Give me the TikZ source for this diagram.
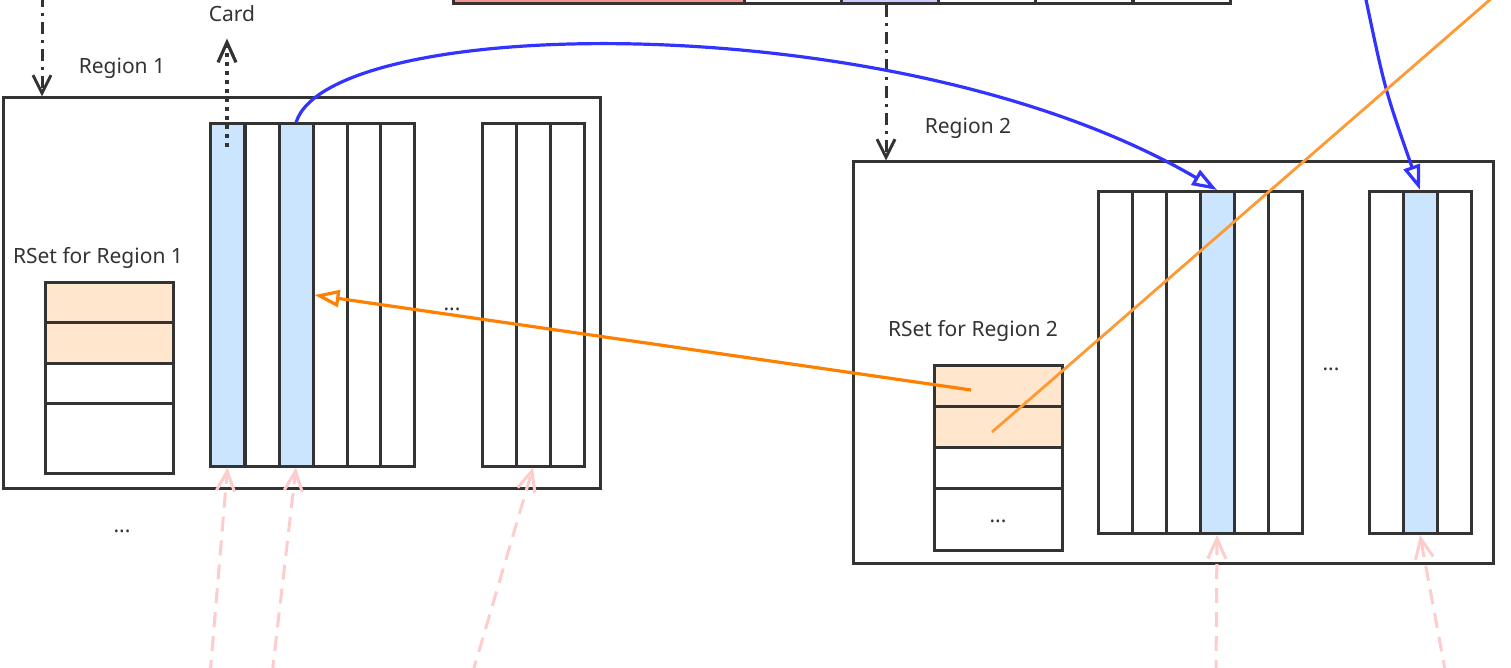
\documentclass[tikz,border=0pt]{standalone}
\usepackage{fontspec}
\setmainfont{Noto Sans}
\usepackage{xcolor}
\usetikzlibrary{arrows.meta,calc}
\definecolor{linegray}{HTML}{333333}
\definecolor{cardblue}{HTML}{CCE5FF}
\definecolor{rsorange}{HTML}{FFE6CC}
\definecolor{heapred}{HTML}{F59393}
\definecolor{heapblue}{HTML}{CCCCFF}
\definecolor{refblue}{HTML}{3333FF}
\definecolor{reforange}{HTML}{FF8000}
\definecolor{refamber}{HTML}{FF9933}
\definecolor{scanpink}{HTML}{FFCCCC}
\tikzset{
  region/.style={
    draw=linegray,
    line width=1.5pt,
    inner sep=0,
    fill=white
  },
  cardcol/.style={
    draw=linegray,
    line width=1.5pt,
    inner sep=0,
    minimum width=17pt,
    minimum height=171pt,
    fill=white
  },
  rsrow/.style={
    draw=linegray,
    line width=1.5pt,
    inner sep=0,
    minimum width=64pt,
    fill=white
  },
  heapcell/.style={
    draw=linegray,
    line width=1.5pt,
    inner sep=0,
    minimum height=20pt,
    minimum width=48.5pt,
    fill=white
  },
  lbl/.style={
    text=linegray,
    inner sep=0,
    font=\fontsize{10.5}{12}\selectfont
  },
  bluearrow/.style={
    draw=refblue,
    line width=1.6pt,
    -{Triangle[open,length=12.5pt,width=8.5pt]}
  },
  orangearrow/.style={
    draw=reforange,
    line width=1.6pt,
    -{Triangle[open,length=12.5pt,width=8.5pt]}
  },
  scanarrow/.style={
    draw=scanpink,
    line width=1.5pt,
    dash pattern=on 7.5pt off 4.5pt,
    -{Straight Barb[length=10pt,width=9pt]}
  },
  ptrarrow/.style={
    draw=linegray,
    line width=1.5pt,
    dash pattern=on 6pt off 3pt on 1.5pt off 3pt,
    -{Straight Barb[length=9pt,width=9pt]}
  },
  cardarrow/.style={
    draw=linegray,
    line width=1.6pt,
    dash pattern=on 2pt off 2.5pt,
    -{Straight Barb[length=10pt,width=9pt]}
  }
}

\begin{document}
\begin{tikzpicture}[x=0.5pt,y=-0.5pt]
    \useasboundingbox (0,0) rectangle (1511,668);
    \clip (0,0) rectangle (1511,668);

    % heap
    \node[heapcell, fill=heapred, minimum width=146pt] (heap0) at (599,-16) {};
    \node[heapcell] (heap1) at (793,-16) {};
    \node[heapcell, fill=heapblue] (heap2) at (889.5,-16) {};
    \node[heapcell] (heap3) at (986.5,-16) {};
    \node[heapcell] (heap4) at (1084,-16) {};
    \node[heapcell] (heap5) at (1181.5,-16) {};

    % region 1
    \node[region, minimum width=298.5pt, minimum height=195pt] (reg1) at (301.5,293) {};
    \node[lbl] (reg1lbl) at (122,68) {Region 1};
    \node[lbl] (cardlbl) at (232,14) {Card};
    \node[cardcol, fill=cardblue] (r1c0) at (227.5,295) {};
    \node[cardcol] (r1c1) at (262,295) {};
    \node[cardcol, fill=cardblue] (r1c2) at (296,295) {};
    \node[cardcol] (r1c3) at (330,295) {};
    \node[cardcol] (r1c4) at (364,295) {};
    \node[cardcol] (r1c5) at (397.5,295) {};
    \node[cardcol] (r1d0) at (499,295) {};
    \node[cardcol] (r1d1) at (533,295) {};
    \node[cardcol] (r1d2) at (567,295) {};
    \node[lbl] (r1dots) at (452,309) {...};
    \node[lbl] (rs1lbl) at (98,258) {RSet for Region 1};
    \node[rsrow, fill=rsorange, minimum height=20pt] (rs1a) at (109,303) {};
    \node[rsrow, fill=rsorange, minimum height=20.5pt] (rs1b) at (109,343.5) {};
    \node[rsrow, minimum height=20pt] (rs1c) at (109,384) {};
    \node[rsrow, minimum height=34.5pt] (rs1d) at (109,438.5) {};
    \node[lbl] (moredots) at (122,531) {...};

    % region 2
    \node[region, minimum width=320pt, minimum height=200.5pt] (reg2) at (1173,362.5) {};
    \node[lbl] (reg2lbl) at (968,128) {Region 2};
    \node[cardcol] (r2c0) at (1115,362.5) {};
    \node[cardcol] (r2c1) at (1149,362.5) {};
    \node[cardcol] (r2c2) at (1183,362.5) {};
    \node[cardcol, fill=cardblue] (r2c3) at (1217,362.5) {};
    \node[cardcol] (r2c4) at (1251,362.5) {};
    \node[cardcol] (r2c5) at (1285,362.5) {};
    \node[cardcol] (r2d0) at (1386,362.5) {};
    \node[cardcol, fill=cardblue] (r2d1) at (1420,362.5) {};
    \node[cardcol] (r2d2) at (1454,362.5) {};
    \node[lbl] (r2dots) at (1331,369) {...};
    \node[lbl] (rs2lbl) at (973,331) {RSet for Region 2};
    \node[rsrow, fill=rsorange, minimum height=20.5pt] (rs2a) at (998,386.5) {};
    \node[rsrow, fill=rsorange, minimum height=20pt] (rs2b) at (998,427) {};
    \node[rsrow, minimum height=20.5pt] (rs2c) at (998,467.5) {};
    \node[rsrow, minimum height=31pt] (rs2d) at (998,519) {};
    \node[lbl] at ([yshift=-1pt]rs2d) {...};

    \coordinate (ptrtop) at (42,-5);
    \coordinate (cardpt) at (227,147);
    \coordinate (rsent1) at (971,390);
    \coordinate (rsent2) at (992,432);
    \coordinate (far1) at (1500,-9);
    \coordinate (far2) at (1365,-5);
    \coordinate (scan1) at (210,675);
    \coordinate (scan2) at (272,675);
    \coordinate (scan3) at (472,675);
    \coordinate (scan4) at (1216,675);
    \coordinate (scan5) at (1446,675);

    \draw[ptrarrow] (ptrtop) -- (ptrtop |- reg1.north);
    \draw[ptrarrow] ([xshift=-1.75pt]heap2.south) -- ([xshift=-1.75pt]heap2.south |- reg2.north);
    \draw[cardarrow, shorten >=8pt] (cardpt) -- (cardpt |- cardlbl.south);

    \draw[bluearrow] (r1c2.north) .. controls (330,14) and (900,4) .. (r2c3.north);
    \draw[bluearrow] (far2) .. controls (1385,90) .. (r2d1.north);
    \draw[orangearrow] (rsent1) -- (r1c2.east);
    \draw[draw=refamber, line width=1.4pt] (rsent2) -- (far1);

    \draw[scanarrow] (scan1) -- (r1c0.south);
    \draw[scanarrow] (scan2) -- (r1c2.south);
    \draw[scanarrow] (scan3) -- (r1d1.south);
    \draw[scanarrow] (scan4) -- (r2c3.south);
    \draw[scanarrow] (scan5) -- (r2d1.south);
\end{tikzpicture}
\end{document}
